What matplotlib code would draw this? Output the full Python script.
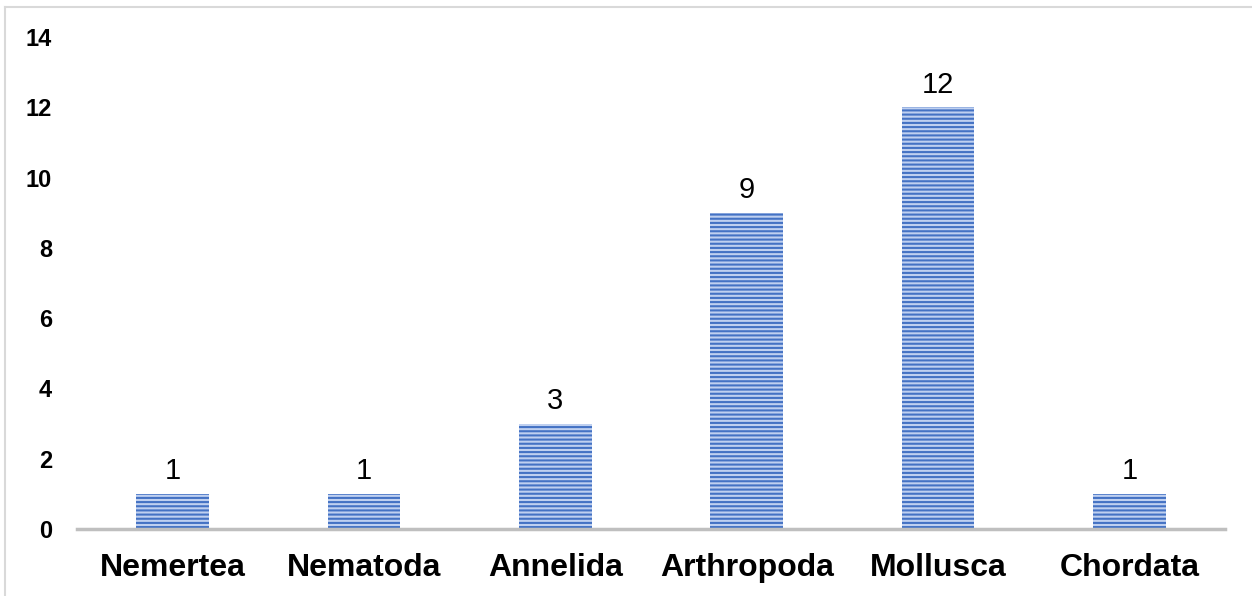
import matplotlib
matplotlib.use("Agg")
import matplotlib.pyplot as plt
from matplotlib.lines import Line2D

plt.rcParams['font.family'] = ['Liberation Sans', 'DejaVu Sans']
plt.rcParams['hatch.color'] = '#4472C4'
plt.rcParams['hatch.linewidth'] = 1.5

categories = ["Nemertea", "Nematoda", "Annelida", "Arthropoda", "Mollusca", "Chordata"]
values = [1, 1, 3, 9, 12, 1]
yticks = [0, 2, 4, 6, 8, 10, 12, 14]

fig = plt.figure(figsize=(12.52, 5.96), dpi=100)
ax = fig.add_axes([77/1252, 1 - 529/596, (1225-77)/1252, (529-37)/596])

x = list(range(len(categories)))
bars = ax.bar(x, values, width=0.38, color='#BFD0F0', edgecolor='#4472C4',
              linewidth=0, hatch='----', zorder=2)
for xi, v in zip(x, values):
    ax.text(xi, v + 0.25, str(v), ha='center', va='bottom', fontsize=21, color='black')

ax.set_xlim(-0.5, len(categories) - 0.5)
ax.set_ylim(0, 14)
ax.set_yticks(yticks)
ax.set_yticklabels([str(t) for t in yticks], fontsize=17, fontweight='bold')
ax.set_xticks(x)
ax.set_xticklabels(categories, fontsize=23, fontweight='bold')
ax.tick_params(axis='both', length=0)
ax.tick_params(axis='y', pad=18)
ax.tick_params(axis='x', pad=17)
for s in ['top', 'right', 'left']:
    ax.spines[s].set_visible(False)
ax.spines['bottom'].set_color('#BFBFBF')
ax.spines['bottom'].set_linewidth(2.5)

# outer border (top and left visible)
fig.add_artist(Line2D([5/1252, 5/1252], [0, 1 - 7/596], transform=fig.transFigure, color='#D9D9D9', lw=1.5))
fig.add_artist(Line2D([5/1252, 1], [1 - 7/596, 1 - 7/596], transform=fig.transFigure, color='#D9D9D9', lw=1.5))

fig.savefig('out.png', dpi=100)
